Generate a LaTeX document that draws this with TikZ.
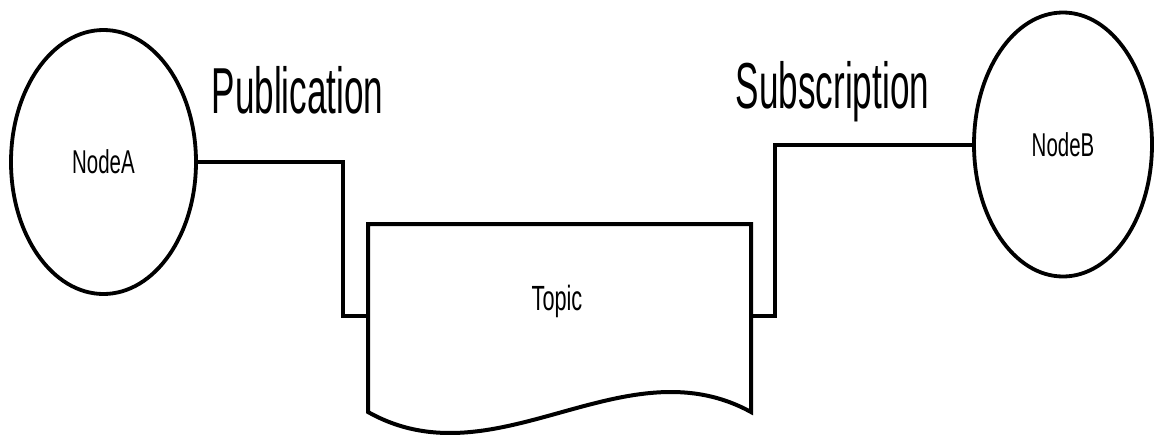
\documentclass[tikz,border=0pt]{standalone}
\usepackage{fontspec}
\setmainfont{Liberation Sans}
\newfontfamily\bigfont[FakeStretch=0.54]{Liberation Sans}
\newfontfamily\smallfont[FakeStretch=0.62]{Liberation Sans}
\usetikzlibrary{shapes.geometric,calc}
\begin{document}
\begin{tikzpicture}[x=1pt,y=-1pt,
  peer/.style={ellipse, draw, line width=3.8pt, inner sep=0pt, font=\smallfont\fontsize{33}{36}\selectfont},
  wire/.style={draw, line width=4pt, line join=miter},
  lbl/.style={anchor=base, inner sep=0pt, font=\bigfont\fontsize{65}{70}\selectfont},
  txt/.style={anchor=base, inner sep=0pt, font=\smallfont\fontsize{35}{40}\selectfont}]
\useasboundingbox (0,0) rectangle (1154,434);
\fill[white] (0,0) rectangle (1154,434);
\node[peer, minimum width=185pt, minimum height=264pt] (A) at (103.5,162) {NodeA};
\node[peer, minimum width=178pt, minimum height=264pt] (B) at (1063,144.5) {NodeB};
\node[minimum width=383pt, minimum height=188pt, inner sep=0pt, outer sep=0pt] (topic) at (559.5,318) {};
\draw[line width=4pt, line join=miter] (topic.south west) -- (topic.north west) -- (topic.north east) -- (topic.south east)
  .. controls ($(topic.south east)+(-128,-70)$) and ($(topic.south west)+(128,72)$) .. (topic.south west) -- cycle;
\node[txt] (topictext) at (557,310) {Topic};
\coordinate (pA) at (343,316);
\coordinate (pB) at (775,316);
\draw[wire] (A.east) -| (pA) -- (topic.west |- pA);
\draw[wire] (topic.east |- pB) -- (pB) |- (B.west);
\node[lbl] (pub) at (297.5,113) {Publication};
\node[lbl] (sub) at (832.5,108) {Subscription};
\end{tikzpicture}
\end{document}
